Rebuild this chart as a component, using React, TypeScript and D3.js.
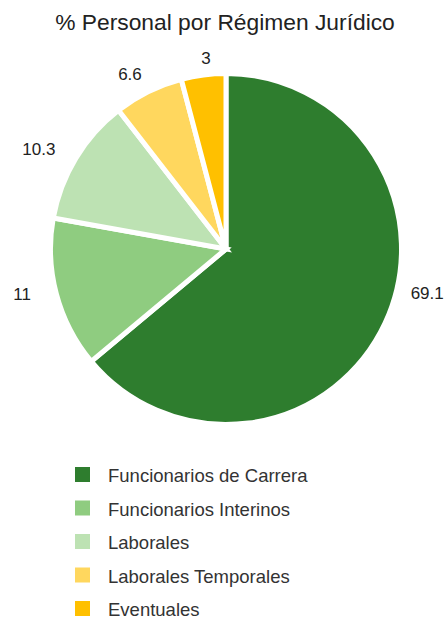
import React from "react";
import * as d3 from "d3";

const title = "% Personal por Régimen Jurídico";
const categories = [
  "Funcionarios de Carrera",
  "Funcionarios Interinos",
  "Laborales",
  "Laborales Temporales",
  "Eventuales",
];
// values printed as labels
const values = [69.1, 11, 10.3, 6.6, 3];
// sector sizes as drawn in the reference (the picture is not proportional to the labels)
const sliceShares = [64.0, 13.9, 11.7, 6.4, 4.1];
const colors = ["#2E7D2E", "#8FCC80", "#BDE2B3", "#FFD75E", "#FFC000"];

// label placement tweaks (degrees offset from mid-angle, radius)
const labelPlacement = [
  { da: -12.7, r: 206 },
  { da: 2.2, r: 209 },
  { da: -3.2, r: 212 },
  { da: -2.6, r: 199 },
  { da: 1.4, r: 192 },
];

const W = 445;
const H = 621;
const cx = 226;
const cy = 249;
const R = 175.5;

export default function App() {
  const pie = d3.pie<number>().sort(null).value((d) => d);
  const arcs = pie(sliceShares);
  const arcGen = d3.arc<d3.PieArcDatum<number>>().innerRadius(0).outerRadius(R);
  const legendY = d3.scaleBand<number>().domain(d3.range(categories.length)).range([467, 467 + 33.5 * 5]);

  return (
    <div style={{ position: "fixed", left: 0, top: 0, background: "#fff" }}>
      <svg width={W} height={H} style={{ display: "block", fontFamily: "'Liberation Sans', Arial, Helvetica, sans-serif" }}>
        <rect width={W} height={H} fill="#fff" />
        <text x={225} y={30} textAnchor="middle" fontSize={22.8} fill="#222">
          {title}
        </text>
        <g transform={`translate(${cx},${cy})`}>
          {arcs.map((a, i) => (
            <path key={i} d={arcGen(a) || ""} fill={colors[i]} stroke="#fff" strokeWidth={5} strokeLinejoin="miter" />
          ))}
          {arcs.map((a, i) => {
            const mid = (a.startAngle + a.endAngle) / 2 + (labelPlacement[i].da * Math.PI) / 180;
            const r = labelPlacement[i].r;
            return (
              <text
                key={"l" + i}
                x={r * Math.sin(mid)}
                y={-r * Math.cos(mid)}
                textAnchor="middle"
                dominantBaseline="central"
                fontSize={17}
                fill="#222"
              >
                {values[i]}
              </text>
            );
          })}
        </g>
        {categories.map((c, i) => {
          const y = legendY(i) as number;
          return (
            <g key={"lg" + i}>
              <rect x={75} y={y} width={15} height={15} fill={colors[i]} />
              <text x={108} y={y + 15} fontSize={18.5} fill="#333">
                {c}
              </text>
            </g>
          );
        })}
      </svg>
    </div>
  );
}
